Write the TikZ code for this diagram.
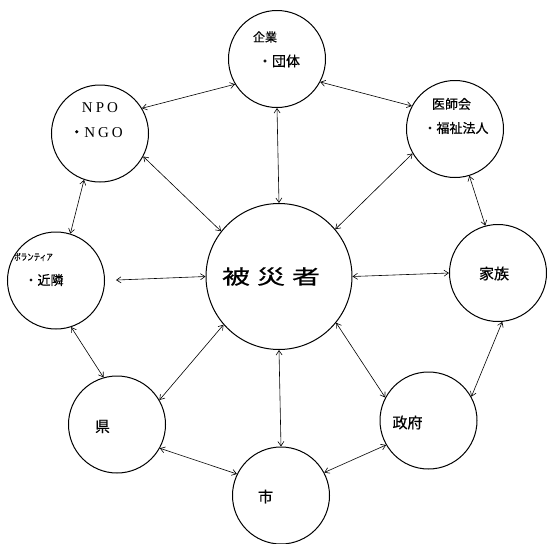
\documentclass[tikz,border=0pt]{standalone}
\usepackage{fontspec}
\setmainfont{Liberation Serif}
\newfontfamily\jp[FakeBold=0.6]{Noto Sans CJK JP}
\usepackage{tikz}
\usetikzlibrary{arrows.meta}

\begin{document}
\begin{tikzpicture}[x=1pt,y=-1pt,
		bubble/.style={draw,circle,minimum size=97pt,inner sep=0pt,line width=1pt},
		link/.style={<->,>={Straight Barb[length=4.5pt,width=6pt]},line width=0.6pt},
		jtext/.style={inner sep=0pt,font=\jp\fontsize{14}{16}\selectfont}]
			\useasboundingbox (0,0) rectangle (547,544);
			% circles
			\node[bubble,minimum size=146pt] (hisai) at (279,276.5) {};
			\node[bubble] (kigyo) at (277,59) {};
			\node[bubble] (npo) at (100,133.5) {};
			\node[bubble] (ishikai) at (455,129) {};
			\node[bubble] (kazoku) at (498,273) {};
			\node[bubble] (volunteer) at (56,280.5) {};
			\node[bubble] (ken) at (117,424.5) {};
			\node[bubble] (shi) at (281,495.5) {};
			\node[bubble] (seifu) at (428.5,420.5) {};
			% labels
			\node[jtext,font=\jp\fontsize{20}{22}\selectfont] (hisaiT) at (271,276.5) {\scalebox{1.4}[1]{被\hspace{5pt}災\hspace{5pt}者}};
			\node[jtext,font=\jp\fontsize{12}{14}\selectfont] (kigyoA) at (265,37) {企業};
			\node[jtext] (kigyoB) at (279,61) {・団体};
			\node[inner sep=0pt,font=\fontsize{15}{17}\selectfont] (npoA) at (100,108) {N\hspace{3pt}P\hspace{3pt}O};
			\node[inner sep=0pt,font=\fontsize{15}{17}\selectfont] (npoB) at (96,132.5) {{\jp ・}N\hspace{3pt}G\hspace{3pt}O};
			\node[jtext,font=\jp\fontsize{13}{15}\selectfont] (ishikaiA) at (451.5,104) {医師会};
			\node[jtext,font=\jp\fontsize{13}{15}\selectfont] (ishikaiB) at (456,128) {・福祉法人};
			\node[jtext,font=\jp\fontsize{9}{11}\selectfont] (volunteerA) at (33.5,257) {\scalebox{0.72}[1]{ボランティア}};
			\node[jtext,font=\jp\fontsize{13}{15}\selectfont] (volunteerB) at (44,280) {・近隣};
			\node[jtext,font=\jp\fontsize{15}{17}\selectfont] (kazokuT) at (494,273.5) {家族};
			\node[jtext,font=\jp\fontsize{15}{17}\selectfont] (kenT) at (102.5,426.5) {県};
			\node[jtext,font=\jp\fontsize{15}{17}\selectfont] (shiT) at (265.5,496.5) {市};
			\node[jtext,font=\jp\fontsize{15}{17}\selectfont] (seifuT) at (407.5,422.5) {政府};
			% arrows
			\draw[link] (npo.31) -- (kigyo.211);
			\draw[link] (kigyo.332) -- (ishikai.152);
			\draw[link] (kigyo.south) -- (hisai.north);
			\draw[link] (npo.332) -- (hisai.142);
			\draw[link] (ishikai.210) -- (hisai.40);
			\draw[link] (npo.251) -- (volunteer.73);
			\draw[link] (ishikai.287) -- (kazoku.105);
			\draw[link,shorten <=11pt] (volunteer.east) -- (hisai.west);
			\draw[link] (hisai.east) -- (kazoku.west);
			\draw[link] (volunteer.288) -- (ken.106);
			\draw[link] (hisai.221) -- (ken.30);
			\draw[link] (hisai.south) -- (shi.north);
			\draw[link] (hisai.321) -- (seifu.152);
			\draw[link] (kazoku.275) -- (seifu.29);
			\draw[link] (ken.331) -- (shi.154);
			\draw[link] (shi.28) -- (seifu.210);
		\end{tikzpicture}
\end{document}
